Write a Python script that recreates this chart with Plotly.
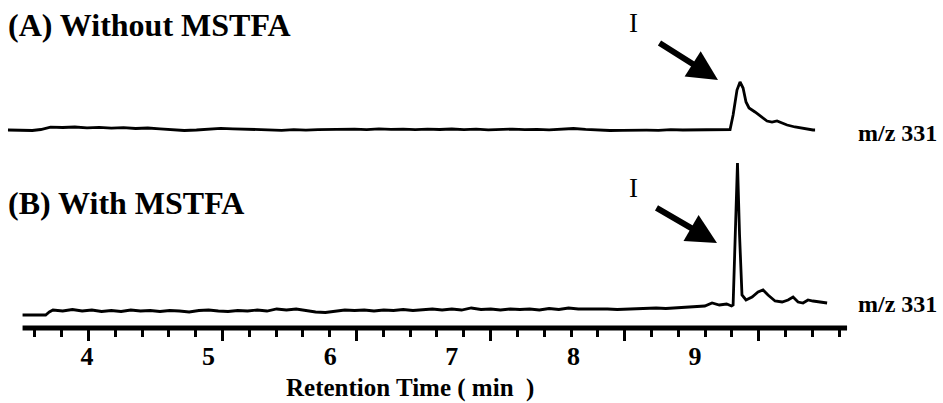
import plotly.graph_objects as go

# ---------------- data ----------------
# (A) Without MSTFA, m/z 331 trace: retention time (min) and relative intensity
time_a = [3.35, 3.45, 3.55, 3.62, 3.70, 3.80, 3.90, 4.00, 4.10, 4.20, 4.30, 4.40,
          4.50, 4.60, 4.70, 4.80, 4.90, 5.00, 5.10, 5.20, 5.30, 5.40, 5.50, 5.60,
          5.70, 5.80, 5.90, 6.00, 6.10, 6.20, 6.30, 6.40, 6.50, 6.60, 6.70, 6.80,
          6.90, 7.00, 7.10, 7.20, 7.30, 7.40, 7.50, 7.60, 7.70, 7.80, 7.90, 8.00,
          8.10, 8.20, 8.30, 8.40, 8.50, 8.60, 8.70, 8.80, 8.90, 9.00, 9.10, 9.20,
          9.288, 9.313, 9.345, 9.370, 9.395, 9.419, 9.444, 9.493, 9.551, 9.592,
          9.633, 9.674, 9.716, 9.757, 9.822, 9.904, 9.970, 9.987]
signal_a = [0.0, 0.0, -0.5, 0.5, 2.8, 2.5, 3.0, 2.2, 2.6, 1.8, 2.3, 1.5,
            2.0, 1.2, 0.2, -0.5, 0.0, 1.0, 1.6, 1.2, 0.8, 0.2, -0.5, -0.3,
            0.3, -0.2, 0.4, 0.6, 0.2, 0.8, 0.4, 1.2, 0.6, 0.9, 0.3, 0.8,
            0.5, 1.0, 0.4, 0.8, 0.2, 0.6, 0.9, 0.4, 0.7, 0.2, 0.5, 1.5,
            0.6, 0.0, -0.5, -0.3, -0.6, -0.2, -0.4, 0.3, 0.0, 0.2, 0.8, 0.5,
            0.5, 15, 40, 48, 42, 28, 22, 18, 13, 9,
            8, 9, 7, 5, 3, 1, 0, 0]

# (B) With MSTFA, m/z 331 trace
time_b = [3.47, 3.66, 3.69, 3.72, 3.80, 3.88, 3.96, 4.04, 4.12, 4.20, 4.28, 4.36,
          4.44, 4.52, 4.60, 4.68, 4.76, 4.84, 4.92, 5.00, 5.08, 5.16, 5.24, 5.32,
          5.40, 5.48, 5.56, 5.64, 5.72, 5.80, 5.88, 5.96, 6.04, 6.12, 6.20, 6.28,
          6.36, 6.44, 6.52, 6.60, 6.68, 6.76, 6.84, 6.92, 7.00, 7.08, 7.16, 7.24,
          7.32, 7.40, 7.48, 7.56, 7.64, 7.72, 7.80, 7.88, 7.96, 8.04, 8.12, 8.20,
          8.28, 8.36, 8.44, 8.52, 8.60, 8.68, 8.76, 8.84, 8.92, 9.00, 9.08, 9.14,
          9.20, 9.26, 9.30, 9.313, 9.333, 9.349, 9.366, 9.386, 9.419, 9.469, 9.518,
          9.559, 9.600, 9.658, 9.716, 9.765, 9.806, 9.847, 9.888, 9.929, 9.970,
          10.028, 10.086]
signal_b = [0, 0, 3, 5, 4, 5.5, 4, 5, 3.5, 4.5, 3.5, 5,
            4, 4.5, 3.5, 4.5, 4, 3, 4.5, 5, 4, 3.5, 4.5, 4,
            5, 4, 6, 5, 6, 4.5, 3, 2.5, 4, 5, 4.5, 5,
            4, 5, 4.5, 5.5, 4.5, 5, 6, 5, 6, 5, 7, 5.5,
            6, 5, 6, 5.5, 6, 5, 6.5, 5.5, 7, 6, 6, 6.5,
            6, 5.5, 6, 6.5, 6.5, 7, 6.5, 7, 7.5, 8, 9, 12,
            10, 11, 9, 10, 80, 152, 80, 20, 15, 18, 23,
            25, 20, 14, 13, 15, 18, 13, 12, 15, 14,
            13, 12]

tick_labels = ["4", "5", "6", "7", "8", "9"]
tick_label_vals = [4, 5, 6, 7, 8, 9]
panel_titles = ["(A) Without MSTFA", "(B) With MSTFA"]
peak_label = "I"
ion_label = "m/z 331"
x_title = "Retention Time (\u00a0min\u00a0\u00a0)"

# ---------------- layout helpers ----------------
W, H = 943, 403
PLOT_BOTTOM = 328          # pixel row of the time axis
FONT = "Liberation Serif"


def px(x):
    return x / W


def py(y):
    return (PLOT_BOTTOM - y) / PLOT_BOTTOM


XR = [3.2845, 11.039]
minor_ticks = [round(3.572 + 0.2204 * k, 4) for k in range(31)]
long_ticks = minor_ticks[2::5]

fig = go.Figure()
fig.add_trace(go.Scatter(x=time_a, y=signal_a, mode="lines", xaxis="x", yaxis="y2",
                         line=dict(color="black", width=2.8), hoverinfo="skip",
                         showlegend=False))
fig.add_trace(go.Scatter(x=time_b, y=signal_b, mode="lines", xaxis="x", yaxis="y",
                         line=dict(color="black", width=2.8), hoverinfo="skip",
                         showlegend=False))

split = 178 / PLOT_BOTTOM
axis_common = dict(showgrid=False, zeroline=False, showline=False)

fig.update_layout(
    width=W, height=H,
    margin=dict(l=0, r=0, t=0, b=H - PLOT_BOTTOM, pad=0),
    paper_bgcolor="white", plot_bgcolor="white",
    font=dict(family=FONT, color="black"),
    xaxis=dict(range=XR, anchor="y", tickmode="array", tickvals=minor_ticks,
               ticks="outside", ticklen=8, tickwidth=3, tickcolor="black",
               showticklabels=False, **axis_common),
    xaxis2=dict(range=XR, overlaying="x", matches="x", anchor="y", side="bottom",
                tickmode="array", tickvals=tick_label_vals,
                ticktext=["<b>%s</b>" % t for t in tick_labels],
                ticks="outside", ticklen=5, tickcolor="rgba(0,0,0,0)",
                tickfont=dict(family=FONT, size=26, color="black"),
                **axis_common),
    xaxis3=dict(range=XR, overlaying="x", matches="x", anchor="y", side="bottom",
                tickmode="array", tickvals=long_ticks, ticks="outside",
                ticklen=12, tickwidth=3, tickcolor="black",
                showticklabels=False, **axis_common),
    yaxis=dict(domain=[0, split], range=[-13, 165], visible=False, **axis_common),
    yaxis2=dict(domain=[split, 1], range=[-20, 130], anchor="x", visible=False,
                **axis_common),
)

# invisible helpers so the overlay axes get drawn
for ax in ("x2", "x3"):
    fig.add_trace(go.Scatter(x=[XR[0]], y=[0], xaxis=ax, yaxis="y", mode="markers",
                             marker=dict(opacity=0), hoverinfo="skip", showlegend=False))

# axis base line
fig.add_shape(type="line", xref="x", yref="paper", x0=3.47, x1=10.25, y0=0, y1=0,
              line=dict(color="black", width=5))

ann = []
title_font = dict(family=FONT, size=32, color="black")
ann.append(dict(text="<b>%s</b>" % panel_titles[0], x=px(6), y=py(25),
                xref="paper", yref="paper", xanchor="left", yanchor="middle",
                showarrow=False, font=title_font))
ann.append(dict(text="<b>%s</b>" % panel_titles[1], x=px(6), y=py(203),
                xref="paper", yref="paper", xanchor="left", yanchor="middle",
                showarrow=False, font=title_font))
for yy in (23, 188):
    ann.append(dict(text=peak_label, x=px(633), y=py(yy), xref="paper", yref="paper",
                    xanchor="center", yanchor="middle", showarrow=False,
                    font=dict(family=FONT, size=27, color="black")))
for yy in (133, 304):
    ann.append(dict(text="<b>%s</b>" % ion_label, x=px(897), y=py(yy), xref="paper",
                    yref="paper", xanchor="center", yanchor="middle", showarrow=False,
                    font=dict(family=FONT, size=24, color="black")))
# arrows (tip, tail offsets in pixels)
for tip, tail in (((718, 80), (658, 42)), ((717, 243), (655, 207))):
    ann.append(dict(text="", x=px(tip[0]), y=py(tip[1]), xref="paper", yref="paper",
                    ax=tail[0] - tip[0], ay=tail[1] - tip[1], showarrow=True,
                    arrowhead=2, arrowsize=1.0, arrowwidth=6, arrowcolor="black",
                    standoff=0, startstandoff=0))
ann.append(dict(text="<b>%s</b>" % x_title, x=px(410), y=py(388), xref="paper",
                yref="paper", xanchor="center", yanchor="middle", showarrow=False,
                font=dict(family=FONT, size=25, color="black")))
fig.update_layout(annotations=ann)

fig.write_html(
    "out.html",
    config={"displayModeBar": False, "staticPlot": True},
    post_script="document.body.style.margin='0';document.body.style.overflow='hidden';",
)
